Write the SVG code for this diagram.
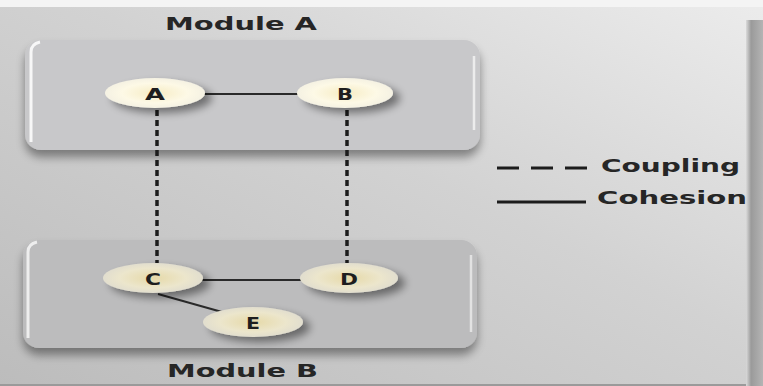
<svg xmlns="http://www.w3.org/2000/svg" width="763" height="386" viewBox="0 0 763 386">
  <style>
    .title { font-family: "DejaVu Sans", "Liberation Sans", sans-serif; font-weight: bold; font-size: 17px; fill: #262626; }
    .label { font-family: "DejaVu Sans", "Liberation Sans", sans-serif; font-weight: bold; font-size: 15px; fill: #1e1e1e; }
    .legend { font-family: "DejaVu Sans", "Liberation Sans", sans-serif; font-weight: bold; font-size: 18px; fill: #262626; }
    .coupling { stroke: #1c1c1c; stroke-width: 3.5; stroke-dasharray: 6 4; fill: none; }
    .cohesion { stroke: #2a2a2a; stroke-width: 2; fill: none; }
    .node-top { fill: url(#nodeTop); filter: url(#nodeShadow); }
    .node-bot { fill: url(#nodeBot); filter: url(#nodeShadow); }
  </style>
  <defs>
    <linearGradient id="bg" x1="0" y1="1" x2="1" y2="0">
      <stop offset="0" stop-color="#bcbcbc"/>
      <stop offset="0.55" stop-color="#d2d2d2"/>
      <stop offset="1" stop-color="#ececec"/>
    </linearGradient>
    <linearGradient id="edge" x1="0" y1="0" x2="1" y2="0">
      <stop offset="0" stop-color="#dadada"/>
      <stop offset="0.3" stop-color="#9a9a9a"/>
      <stop offset="1" stop-color="#b4b4b4"/>
    </linearGradient>
    <radialGradient id="nodeTop" cx="0.5" cy="0.5" r="0.55">
      <stop offset="0" stop-color="#f6ecc4"/>
      <stop offset="0.6" stop-color="#fdf9e6"/>
      <stop offset="1" stop-color="#f2efe2"/>
    </radialGradient>
    <radialGradient id="nodeBot" cx="0.5" cy="0.5" r="0.55">
      <stop offset="0" stop-color="#e6d9a8"/>
      <stop offset="0.6" stop-color="#ece6cc"/>
      <stop offset="1" stop-color="#dedbcf"/>
    </radialGradient>
    <filter id="nodeShadow" x="-30%" y="-60%" width="170%" height="240%">
      <feGaussianBlur in="SourceAlpha" stdDeviation="4"/>
      <feOffset dx="7" dy="5" result="b"/>
      <feComponentTransfer><feFuncA type="linear" slope="0.45"/></feComponentTransfer>
      <feMerge><feMergeNode/><feMergeNode in="SourceGraphic"/></feMerge>
    </filter>
    <filter id="boxShadow" x="-10%" y="-20%" width="120%" height="150%">
      <feGaussianBlur in="SourceAlpha" stdDeviation="5"/>
      <feOffset dx="0" dy="7" result="b"/>
      <feComponentTransfer><feFuncA type="linear" slope="0.4"/></feComponentTransfer>
      <feMerge><feMergeNode/><feMergeNode in="SourceGraphic"/></feMerge>
    </filter>
  </defs>

  <!-- backdrop -->
  <rect x="0" y="0" width="763" height="386" fill="url(#bg)"/>
  <rect x="0" y="0" width="763" height="7" fill="#f4f4f4"/>
  <rect x="746" y="20" width="17" height="366" fill="url(#edge)"/>
  <rect x="0" y="384" width="746" height="2" fill="#9a9a9a"/>

  <!-- module containers -->
  <g id="moduleA">
    <rect x="25" y="40" width="455" height="110" rx="16" fill="#c8c8ca" filter="url(#boxShadow)"/>
    <path d="M31 142 V52 Q31 44 40 42" stroke="#f7f7f7" stroke-width="3" fill="none"/>
    <path d="M474 56 V130" stroke="#ececec" stroke-width="2.5" fill="none"/>
    <text class="title" x="165" y="30" textLength="152" lengthAdjust="spacingAndGlyphs">Module A</text>
  </g>
  <g id="moduleB">
    <rect x="23" y="240" width="454" height="108" rx="16" fill="#bcbcbd" filter="url(#boxShadow)"/>
    <path d="M28 338 V252 Q28 244 37 242" stroke="#eeeeee" stroke-width="3" fill="none"/>
    <path d="M471 255 V332" stroke="#e2e2e2" stroke-width="2.5" fill="none"/>
    <text class="title" x="167" y="377" textLength="151" lengthAdjust="spacingAndGlyphs">Module B</text>
  </g>

  <!-- connectors -->
  <g id="connectors">
    <line class="cohesion" x1="203" y1="94" x2="298" y2="94" stroke="#505050"/>
    <line class="coupling" x1="157" y1="110" x2="157" y2="263"/>
    <line class="coupling" x1="347" y1="110" x2="347" y2="263"/>
    <line class="cohesion" x1="200" y1="280" x2="302" y2="280"/>
    <line class="cohesion" x1="158" y1="294" x2="222" y2="312"/>
  </g>

  <!-- nodes -->
  <g id="node-A">
    <ellipse class="node-top" cx="155" cy="93" rx="50" ry="15"/>
    <text class="label" x="145" y="100" textLength="20" lengthAdjust="spacingAndGlyphs">A</text>
  </g>
  <g id="node-B">
    <ellipse class="node-top" cx="345" cy="93" rx="48" ry="15"/>
    <text class="label" x="337" y="100" textLength="16" lengthAdjust="spacingAndGlyphs">B</text>
  </g>
  <g id="node-C">
    <ellipse class="node-bot" cx="153" cy="278" rx="50" ry="15"/>
    <text class="label" x="145" y="285" textLength="16" lengthAdjust="spacingAndGlyphs">C</text>
  </g>
  <g id="node-D">
    <ellipse class="node-bot" cx="349" cy="278" rx="49" ry="15"/>
    <text class="label" x="340" y="285" textLength="18" lengthAdjust="spacingAndGlyphs">D</text>
  </g>
  <g id="node-E">
    <ellipse class="node-bot" cx="253" cy="322" rx="50" ry="15"/>
    <text class="label" x="246" y="329" textLength="14" lengthAdjust="spacingAndGlyphs">E</text>
  </g>

  <!-- legend -->
  <g id="legend">
    <line x1="497" y1="168" x2="587" y2="168" stroke="#1c1c1c" stroke-width="3" stroke-dasharray="22 12"/>
    <text class="legend" x="601" y="172" textLength="139" lengthAdjust="spacingAndGlyphs">Coupling</text>
    <line x1="497" y1="202" x2="586" y2="202" stroke="#1c1c1c" stroke-width="3"/>
    <text class="legend" x="597" y="204" textLength="150" lengthAdjust="spacingAndGlyphs">Cohesion</text>
  </g>
</svg>
